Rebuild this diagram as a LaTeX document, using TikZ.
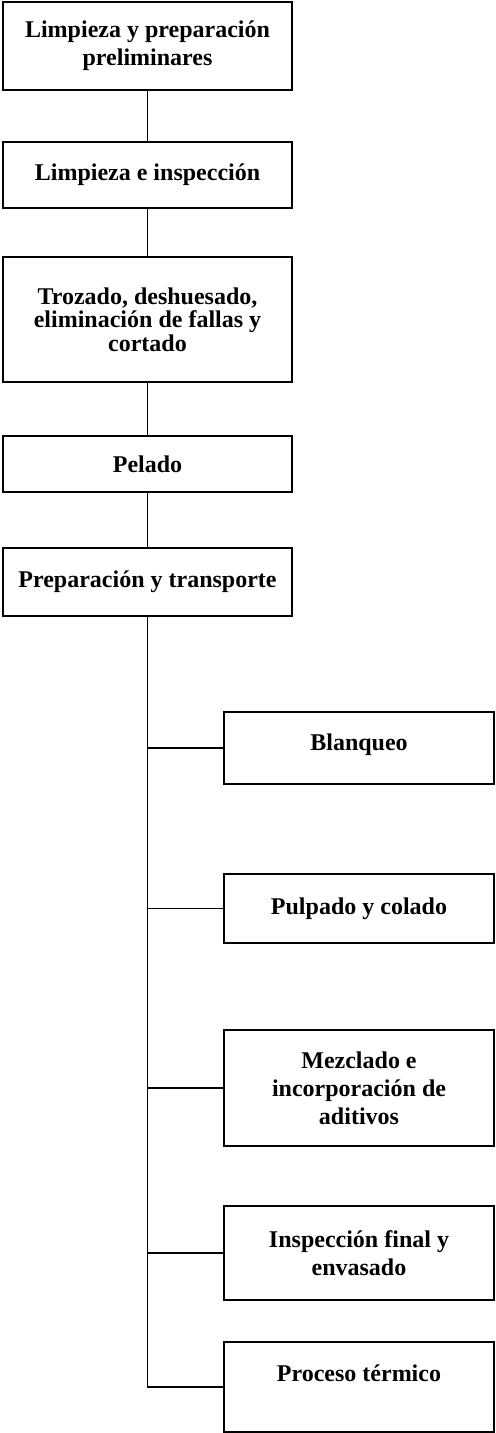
\documentclass[tikz,border=0pt]{standalone}
\usepackage{fontspec}
\setmainfont{Liberation Serif}
\tikzset{block/.style = {draw, fill=white, line width=0.9pt, rectangle, align=center, inner sep=0pt, font=\bfseries\fontsize{12}{14}\selectfont, minimum width=144.5pt},
         side/.style = {block, minimum width=135pt},
         link/.style = {line width=0.9pt}}
\begin{document}
\begin{tikzpicture}[x=0.5pt, y=-0.5pt]
        \useasboundingbox (0,0) rectangle (496,1433);

        \node[block, minimum height=44pt] (b1) at (147.5,46) {Limpieza y preparación\\preliminares};
        \node[block, minimum height=33pt] (b2) at (147.5,175) {Limpieza e inspección};
        \node[block, minimum height=62.5pt, font=\bfseries\fontsize{12}{11.7}\selectfont] (b3) at (147.5,319.5) {Trozado, deshuesado,\\eliminación de fallas y\\cortado};
        \node[block, minimum height=28pt] (b4) at (147.5,464) {Pelado};
        \node[block, minimum height=34pt] (b5) at (147.5,582) {Preparación y transporte};

        \node[side, minimum height=36pt] (b6) at (359,748) {Blanqueo\\[-8pt]~};
        \node[side, minimum height=34.5pt] (b7) at (359,908.5) {Pulpado y colado};
        \node[side, minimum height=58pt] (b8) at (359,1088) {Mezclado e\\incorporación de\\aditivos};
        \node[side, minimum height=47pt] (b9) at (359,1253) {Inspección final y\\envasado};
        \node[side, minimum height=45pt] (b10) at (359,1387) {Proceso térmico\\~};

        \draw[link] (b1) -- (b2);
        \draw[link] (b2) -- (b3);
        \draw[link] (b3) -- (b4);
        \draw[link] (b4) -- (b5);
        \draw[link] (b5.south) |- (b10.west);
        \draw[link] (b6.west) -- (b6.west -| b5.south);
        \draw[link] (b7.west) -- (b7.west -| b5.south);
        \draw[link] (b8.west) -- (b8.west -| b5.south);
        \draw[link] (b9.west) -- (b9.west -| b5.south);
    \end{tikzpicture}
\end{document}
